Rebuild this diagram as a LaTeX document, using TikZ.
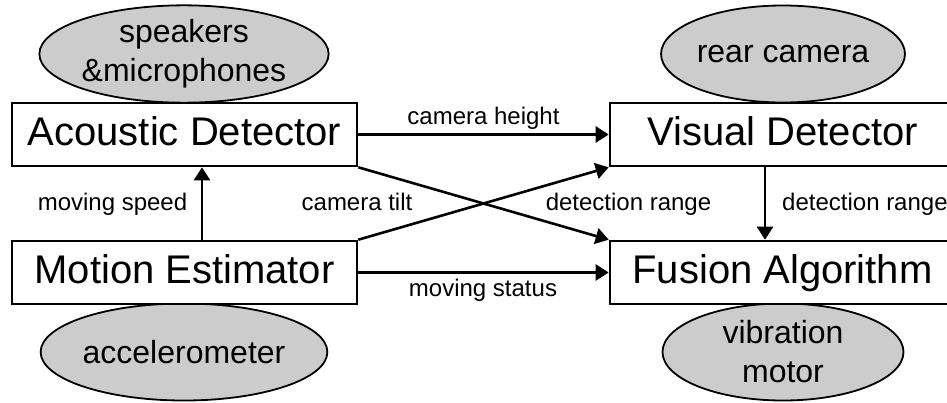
\documentclass[tikz,border=0pt]{standalone}
\usepackage{fontspec}
\setmainfont{Liberation Sans}
\usetikzlibrary{arrows.meta,shapes.geometric}
\definecolor{ellfill}{RGB}{204,204,204}
\begin{document}
\begin{tikzpicture}[x=1pt,y=-1pt,
  box/.style={draw,line width=2.6pt,fill=white,minimum width=345pt,minimum height=63pt,inner sep=0pt,
    font=\fontsize{40}{48}\selectfont,text height=30pt,text depth=8.4pt},
  ell/.style={ellipse,draw,line width=1.8pt,fill=ellfill,minimum width=241pt,minimum height=97pt,inner sep=0pt,
    align=center,font=\fontsize{32}{39}\selectfont},
  lbl/.style={inner sep=0pt,font=\fontsize{24}{28}\selectfont},
  arr/.style={line width=2.6pt,-{Triangle[length=13pt,width=16pt]}}]
\useasboundingbox (0,0) rectangle (947,402);
\clip (0,0) rectangle (947,402);
% ellipses
\node[ell] (spk) at (184,54) {speakers\\\&microphones};
\node[ell] (cam) at (783,54) {rear camera};
\node[ell] (acc) at (184,352) {accelerometer};
\node[ell] (vib) at (783,352) {vibration\\motor};
% boxes
\node[box] (ac) at (184.5,134.5) {Acoustic Detector};
\node[box] (me) at (184.5,272.5) {Motion Estimator};
\node[box] (vd) at (782.5,134.5) {Visual Detector};
\node[box] (fa) at (782.5,272.5) {Fusion Algorithm};
% helper coordinates for vertical arrows
\coordinate (ax) at (202,0);
\coordinate (bx) at (765,0);
% connectors
\draw[arr] (ac.east) -- (vd.west);
\draw[arr] (me.east) -- (fa.west);
\draw[arr] (ac.south east) -- (fa.north west);
\draw[arr] (me.north east) -- (vd.south west);
\draw[arr] (me.north -| ax) -- (ac.south -| ax);
\draw[arr] (vd.south -| bx) -- (fa.north -| bx);
% labels
\node[lbl,anchor=base] (l1) at (483.5,124) {camera height};
\node[lbl,anchor=base] (l2) at (483,296) {moving status};
\node[lbl,anchor=base] (l3) at (112.5,210) {moving speed};
\node[lbl,anchor=base] (l4) at (357,210) {camera tilt};
\node[lbl,anchor=base] (l5) at (628.5,210) {detection range};
\node[lbl,anchor=base west] (l6) at (782,210) {detection range};
\end{tikzpicture}
\end{document}
